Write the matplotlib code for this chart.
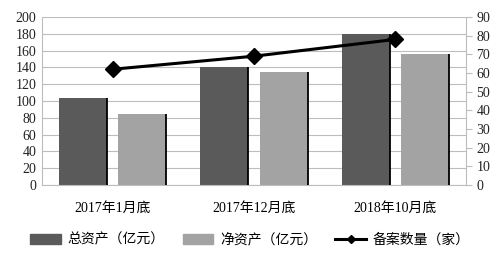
import numpy as np
import matplotlib.pyplot as plt
from matplotlib.lines import Line2D
from matplotlib.patches import Patch

plt.rcParams['font.family'] = ['Liberation Serif', 'Noto Sans CJK SC']

# data
categories = ['2017年1月底', '2017年12月底', '2018年10月底']
total_assets = [103, 141, 180]      # 总资产（亿元）
net_assets = [85, 135, 156]         # 净资产（亿元）
count = [62, 69, 78]                # 备案数量（家）
labels = ['总资产（亿元）', '净资产（亿元）', '备案数量（家）']

fig = plt.figure(figsize=(5, 2.54), dpi=100)
ax = fig.add_axes([0.084, 0.272, 0.848, 0.661])
x = np.arange(len(categories))
w = 0.34
off = 0.21

ax.bar(x - off, total_assets, w, color='#5a5a5a', zorder=2)
ax.bar(x + off, net_assets, w, color='#a3a3a3', zorder=2)
# dark shadow on right edge of bars
ax.vlines(x - off + w / 2, 0, total_assets, color='black', lw=1.3, zorder=3)
ax.vlines(x + off + w / 2, 0, net_assets, color='black', lw=1.3, zorder=3)

ax.set_xlim(-0.5, 2.5)
ax.set_ylim(0, 200)
ax.set_yticks(range(0, 201, 20))
ax.grid(axis='y', color='#bdbdbd', lw=0.8, zorder=0)
ax.set_xticks(x)
ax.set_xticklabels(categories, fontsize=10)
ax.tick_params(axis='x', length=0, pad=12)
ax.tick_params(axis='y', length=0, labelsize=10, pad=4, colors='#222222')
for s in ['top', 'right']:
    ax.spines[s].set_visible(False)
ax.spines['left'].set_color('#bdbdbd')
ax.spines['bottom'].set_color('#bdbdbd')

ax2 = ax.twinx()
ax2.plot(x, count, color='black', lw=2.2, marker='D', ms=8, zorder=4)
ax2.set_ylim(0, 90)
ax2.set_yticks(range(0, 91, 10))
ax2.tick_params(axis='y', length=4, color='#bdbdbd', labelsize=10, colors='#222222')
for s in ['top', 'left', 'bottom']:
    ax2.spines[s].set_visible(False)
ax2.spines['right'].set_color('#bdbdbd')

handles = [Patch(color='#5a5a5a'), Patch(color='#a3a3a3'),
           Line2D([], [], color='black', lw=2.2, marker='D', ms=4)]
fig.legend(handles, labels, loc='lower center', ncol=3, frameon=False,
           bbox_to_anchor=(0.5, -0.02), fontsize=10, handlelength=2.2,
           handletextpad=0.5, columnspacing=1.3)

fig.savefig('out.png', dpi=100)
